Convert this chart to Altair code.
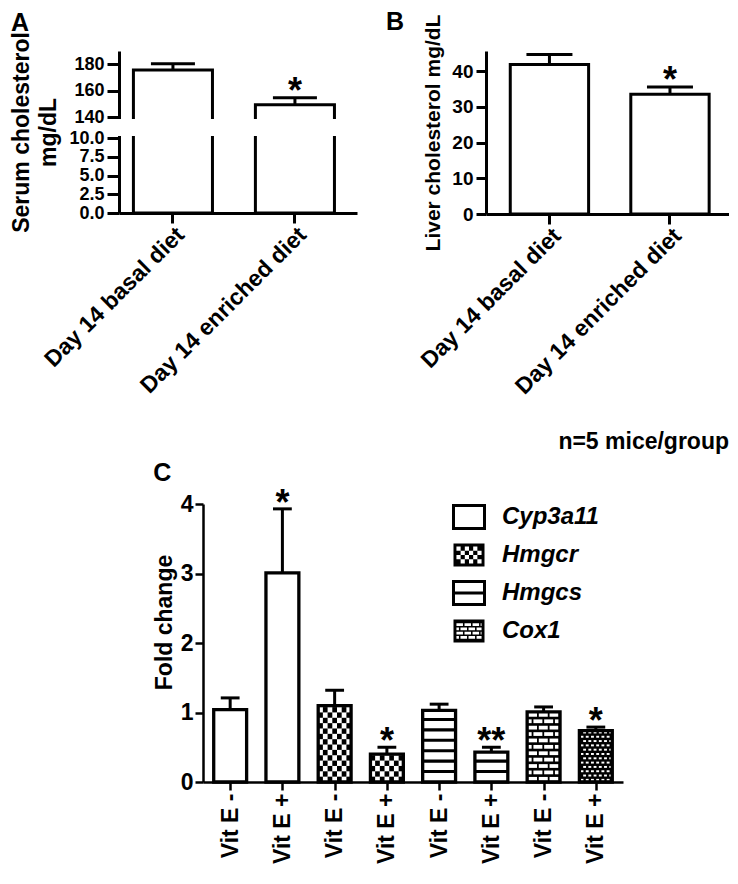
import json
import math
import altair as alt
import pandas as pd

FONT = "Liberation Sans"

# ---------------- data ----------------
diets = ["Day 14 basal diet", "Day 14 enriched diet"]
serum_mean = [175.6, 149.2]
serum_sem = [4.8, 5.4]
serum_sig = ["", "*"]
serum_ticks = [0, 2.5, 5, 7.5, 10, 140, 160, 180]

liver_mean = [41.8, 33.5]
liver_sem = [2.8, 2.0]
liver_sig = ["", "*"]
liver_ticks = [0, 10, 20, 30, 40]

genes = ["Cyp3a11", "Hmgcr", "Hmgcs", "Cox1"]
fc_gene = ["Cyp3a11", "Cyp3a11", "Hmgcr", "Hmgcr", "Hmgcs", "Hmgcs", "Cox1", "Cox1"]
fc_vit = ["Vit E -", "Vit E +", "Vit E -", "Vit E +", "Vit E -", "Vit E +", "Vit E -", "Vit E +"]
fc_mean = [1.04, 3.01, 1.10, 0.40, 1.03, 0.43, 1.01, 0.74]
fc_err = [0.17, 0.92, 0.22, 0.10, 0.09, 0.07, 0.07, 0.05]
fc_sig = ["", "*", "", "*", "", "**", "", "*"]
fc_ticks = [0, 1, 2, 3, 4]

n_note = "n=5 mice/group"

# ---------------- styles ----------------
gene_pattern = {"Cyp3a11": "plain", "Hmgcr": "checker", "Hmgcs": "stripes", "Cox1": "brick"}
HW = 0.315  # half bar width in panel C (x units)

axis_common = dict(domainColor="black", tickColor="black", labelColor="black",
                   titleColor="black", labelFont=FONT, titleFont=FONT,
                   labelFontWeight="bold", titleFontWeight="bold", grid=False,
                   labelOverlap=False, labelFlush=False)

# ================= Panel A =================
dfA = pd.DataFrame({"diet": diets, "mean": serum_mean, "sem": serum_sem, "sig": serum_sig})
A_W, A_H = 238, 162
scAx = alt.Scale(paddingInner=0.352, paddingOuter=0.1515, align=0.39)
axAx = alt.Axis(title=None, labelAngle=-45, labelAlign="right", labelBaseline="top",
                labelFontSize=23, labelLimit=400, tickSize=10, tickWidth=3,
                domainWidth=3, labelPadding=0)
scAy = alt.Scale(domain=[0, 10, 140, 190], range=[A_H, 87, 66, 0], nice=False, zero=False)
axAy = alt.Axis(values=serum_ticks, tickCount=50,
                labelExpr="datum.value >= 100 ? format(datum.value, 'd') : format(datum.value, '.1f')",
                title=["Serum cholesterol", "mg/dL"], titleFontSize=23, titleLineHeight=27,
                titleLimit=400, titlePadding=8, labelFontSize=18, tickSize=12, tickWidth=3,
                domainWidth=3, labelPadding=3)


def xa():
    return alt.X("diet:N", sort=diets, scale=scAx, axis=axAx)


def ya(f):
    return alt.Y(f"{f}:Q", scale=scAy, axis=axAy)


baseA = alt.Chart(dfA).transform_calculate(top="datum.mean + datum.sem")
barsA = baseA.mark_bar(fill="white", stroke="black", strokeWidth=3).encode(x=xa(), y=ya("mean"))
maskA = baseA.mark_rect(fill="white", yOffset=2, y2Offset=-2).encode(
    x=alt.value(-4), x2=alt.value(A_W + 4), y=alt.datum(140), y2=alt.datum(10))
errA = baseA.mark_rule(strokeWidth=3, color="black").encode(x=xa(), y=ya("mean"), y2="top:Q")
capA = baseA.mark_tick(thickness=3, size=44, color="black", opacity=1).encode(x=xa(), y=ya("top"))
starA = baseA.mark_text(fontSize=36, font=FONT, fontWeight="bold", baseline="alphabetic",
                        dy=5, color="black").encode(x=xa(), y=ya("top"), text="sig:N")
A = alt.layer(barsA, maskA, errA, capA, starA).properties(
    width=A_W, height=A_H,
    title=alt.TitleParams("A", anchor="start", frame="bounds", fontSize=25, offset=-4))

# ================= Panel B =================
dfB = pd.DataFrame({"diet": diets, "mean": liver_mean, "sem": liver_sem, "sig": liver_sig})
B_W, B_H = 243, 163
scBx = alt.Scale(paddingInner=0.35, paddingOuter=0.183, align=0.55)
axBx = alt.Axis(title=None, labelAngle=-45, labelAlign="right", labelBaseline="top",
                labelFontSize=23, labelLimit=400, tickSize=10, tickWidth=3,
                domainWidth=3, labelPadding=0)
scBy = alt.Scale(domain=[0, 45.6], nice=False, zero=True)
axBy = alt.Axis(values=liver_ticks, tickCount=50, format="d", title="Liver cholesterol mg/dL",
                titleFontSize=21, titleLimit=400, titlePadding=8, labelFontSize=19,
                tickSize=10, tickWidth=3, domainWidth=3, labelPadding=3)


def xb():
    return alt.X("diet:N", sort=diets, scale=scBx, axis=axBx)


def yb(f):
    return alt.Y(f"{f}:Q", scale=scBy, axis=axBy)


baseB = alt.Chart(dfB).transform_calculate(top="datum.mean + datum.sem")
barsB = baseB.mark_bar(fill="white", stroke="black", strokeWidth=3).encode(x=xb(), y=yb("mean"))
errB = baseB.mark_rule(strokeWidth=3, color="black").encode(x=xb(), y=yb("mean"), y2="top:Q")
capB = baseB.mark_tick(thickness=3, size=46, color="black", opacity=1).encode(x=xb(), y=yb("top"))
starB = baseB.mark_text(fontSize=36, font=FONT, fontWeight="bold", baseline="alphabetic",
                        dy=5, color="black").encode(x=xb(), y=yb("top"), text="sig:N")
B = alt.layer(barsB, errB, capB, starB).properties(
    width=B_W, height=B_H,
    title=alt.TitleParams("B", anchor="start", frame="bounds", fontSize=25, offset=-21,
                          dx=-31))

# ================= Panel C =================
dfC = pd.DataFrame({"pos": list(range(len(fc_mean))), "gene": fc_gene, "vit": fc_vit,
                    "mean": fc_mean, "err": fc_err, "sig": fc_sig})

# texture rectangles derived from the bar values
pat_rows = []
for i, (g, v, m) in enumerate(zip(fc_gene, fc_vit, fc_mean)):
    left, right = i - HW, i + HW
    kind = gene_pattern[g]
    if kind == "checker":
        nc = 7
        cw = (right - left) / nc
        chh = 0.077
        for r in range(math.ceil(m / chh)):
            for c in range(nc):
                if (r + c) % 2 == 0:
                    pat_rows.append(dict(x0=left + c * cw, x1=left + (c + 1) * cw,
                                         y0=r * chh, y1=min((r + 1) * chh, m), col="black"))
    elif kind == "stripes":
        k = 1
        while k * 0.15 + 0.022 < m - 0.03:
            pat_rows.append(dict(x0=left, x1=right, y0=k * 0.15 - 0.022,
                                 y1=k * 0.15 + 0.022, col="black"))
            k += 1
    elif kind == "brick":
        pat_rows.append(dict(x0=left, x1=right, y0=0, y1=m, col="black"))
        fine = v.endswith("+")
        pitch, bh, bw, gap = (0.062, 0.028, 0.055, 0.045) if fine else (0.092, 0.054, 0.172, 0.034)
        r = 0
        while r * pitch < m:
            y0 = r * pitch + (pitch - bh) / 2
            y1 = min(y0 + bh, m)
            if y1 > y0:
                off = (r % 2) * (bw + gap) / 2
                k = 0
                while True:
                    bx0 = left - off + k * (bw + gap) + gap / 2
                    if bx0 >= right:
                        break
                    bx1 = bx0 + bw
                    a, b = max(bx0, left), min(bx1, right)
                    if b > a:
                        pat_rows.append(dict(x0=a, x1=b, y0=y0, y1=y1, col="white"))
                    k += 1
            r += 1
dfP = pd.DataFrame(pat_rows)

C_W, C_H = 420, 278
scCx = alt.Scale(domain=[-0.52, 7.52], nice=False, zero=False)
axCx = alt.Axis(values=list(range(len(fc_vit))), tickCount=50,
                labelExpr=json.dumps(fc_vit) + "[datum.value]",
                title=None, labelAngle=-90, labelAlign="right", labelBaseline="middle",
                labelFontSize=23, labelLimit=300, tickSize=8, tickWidth=2.5,
                domainWidth=2.5, labelPadding=3)
scCy = alt.Scale(domain=[0, 4], nice=False)
axCy = alt.Axis(values=fc_ticks, tickCount=50, format="d", title="Fold change", titleFontSize=23,
                titleLimit=400, titlePadding=4, titleY=118, labelFontSize=23, tickSize=8,
                tickWidth=2.5, domainWidth=2.5, labelPadding=2)


def cx(f):
    return alt.X(f"{f}:Q", scale=scCx, axis=axCx)


def cy(f):
    return alt.Y(f"{f}:Q", scale=scCy, axis=axCy)


baseC = alt.Chart(dfC).transform_calculate(
    x0=f"datum.pos - {HW}", x1=f"datum.pos + {HW}", zero="0",
    top="datum.mean + datum.err", cl="datum.pos - 0.18", cr="datum.pos + 0.18")
fillC = baseC.mark_rect(fill="white").encode(x=cx("x0"), x2="x1:Q", y=cy("mean"), y2="zero:Q")
patBlack = alt.Chart(dfP).transform_filter("datum.col == 'black'").mark_rect(
    color="black").encode(x=cx("x0"), x2="x1:Q", y=cy("y0"), y2="y1:Q")
patWhite = alt.Chart(dfP).transform_filter("datum.col == 'white'").mark_rect(
    color="white").encode(x=cx("x0"), x2="x1:Q", y=cy("y0"), y2="y1:Q")
outlineC = baseC.mark_rect(fill="transparent", stroke="black", strokeWidth=3.3).encode(
    x=cx("x0"), x2="x1:Q", y=cy("mean"), y2="zero:Q")
errC = baseC.mark_rule(strokeWidth=3, color="black").encode(x=cx("pos"), y=cy("mean"), y2="top:Q")
capC = baseC.mark_rule(strokeWidth=3, color="black").encode(x=cx("cl"), x2="cr:Q", y=cy("top"))
starC = baseC.mark_text(fontSize=36, font=FONT, fontWeight="bold", baseline="alphabetic",
                        dy=6, color="black").encode(x=cx("pos"), y=cy("top"), text="sig:N")

# legend swatches as custom symbol paths
SH = 0.742


def r_cw(x0, y0, x1, y1):
    return f"M{x0:.3f},{y0:.3f}H{x1:.3f}V{y1:.3f}H{x0:.3f}Z"


def r_ccw(x0, y0, x1, y1):
    return f"M{x0:.3f},{y0:.3f}V{y1:.3f}H{x1:.3f}V{y0:.3f}Z"


outer = r_cw(-1, -SH, 1, SH)
bd = 0.19
ix0, ix1, iy0, iy1 = -1 + bd, 1 - bd, -SH + bd, SH - bd
cwl, chl = (ix1 - ix0) / 6, (iy1 - iy0) / 4
checker_holes = "".join(
    r_ccw(ix0 + c * cwl, iy0 + r * chl, ix0 + (c + 1) * cwl, iy0 + (r + 1) * chl)
    for r in range(4) for c in range(6) if (r + c) % 2 == 0)
brick_holes = ""
bwl, bgl = 0.42, 0.1
for r in range(4):
    yy0 = iy0 + r * chl + 0.05
    yy1 = iy0 + (r + 1) * chl - 0.05
    off = (r % 2) * (bwl + bgl) / 2
    k = 0
    while True:
        bx0 = ix0 - off + k * (bwl + bgl)
        if bx0 >= ix1:
            break
        a, b = max(bx0, ix0), min(bx0 + bwl, ix1)
        if b - a > 0.05:
            brick_holes += r_ccw(a, yy0, b, yy1)
        k += 1
sym_paths = [outer, outer + checker_holes, outer + "M-1,0H1", outer + brick_holes]

leg = alt.Legend(title=None, orient="none", legendX=333, legendY=449, symbolSize=961,
                 symbolStrokeWidth=3, labelFontSize=24, labelFont=FONT, labelFontWeight="bold",
                 labelFontStyle="italic", labelColor="black", labelOffset=16, rowPadding=2,
                 padding=0)
legendC = baseC.transform_filter("false").mark_point(filled=True, opacity=1).encode(
    x=cx("pos"), y=cy("mean"),
    shape=alt.Shape("gene:N", scale=alt.Scale(domain=genes, range=sym_paths), legend=leg),
    fill=alt.Fill("gene:N", scale=alt.Scale(domain=genes, range=["white", "black", "white", "black"]), legend=leg),
    stroke=alt.Stroke("gene:N", scale=alt.Scale(domain=genes, range=["black", "transparent", "black", "transparent"]), legend=leg),
)
C = alt.layer(fillC, patBlack, patWhite, outlineC, errC, capC, starC, legendC).properties(
    width=C_W, height=C_H,
    title=alt.TitleParams("C", anchor="start", frame="bounds", fontSize=25, offset=0))


def spacer(w, title=None):
    ch = alt.Chart(pd.DataFrame({"v": [0]})).mark_point(opacity=0, size=1).encode(
        x=alt.value(0), y=alt.value(0))
    if title is not None:
        return ch.properties(width=w, height=10, title=title)
    return ch.properties(width=w, height=10)


sp2 = spacer(84)
sp3 = spacer(106, alt.TitleParams(n_note, anchor="end", frame="group", fontSize=23, offset=50))

row1 = alt.hconcat(A, B, spacing=129, bounds="flush")
row2 = alt.hconcat(sp2, C, sp3, spacing=0, bounds="flush")

chart = alt.vconcat(row1, row2, spacing=31).properties(
    padding={"left": 2, "top": 2, "right": 0, "bottom": 0}).configure_view(
    stroke=None).configure_axis(**axis_common).configure_title(
    font=FONT, fontWeight="bold", color="black")

chart.save("out.html", embed_options={"renderer": "svg", "actions": False})
